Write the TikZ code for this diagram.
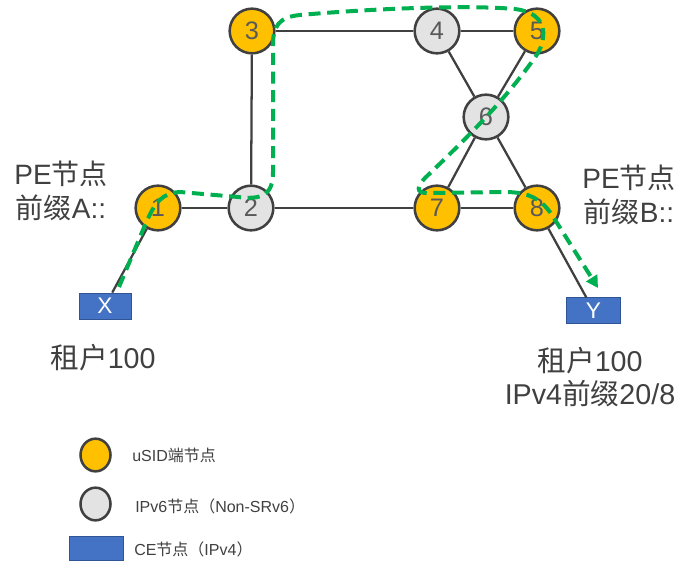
\documentclass[tikz,border=0pt]{standalone}
\usepackage{fontspec}
\setmainfont{Liberation Sans}
\newfontfamily\cjk{Noto Sans CJK SC}
\usetikzlibrary{arrows.meta,shapes.geometric}
\definecolor{usid}{HTML}{FFC000}
\definecolor{ipsix}{HTML}{E3E3E3}
\definecolor{outl}{HTML}{404040}
\definecolor{numc}{HTML}{595959}
\definecolor{txt}{HTML}{404040}
\definecolor{ceblue}{HTML}{4472C4}
\definecolor{ceedge}{HTML}{2F5597}
\definecolor{pathg}{HTML}{00B050}
\tikzset{
  nd/.style={circle, minimum size=33.5pt, inner sep=0pt, draw=outl, line width=1.9pt,
    text=numc, font=\fontsize{19}{19}\selectfont},
  usidnode/.style={nd, fill=usid},
  v6node/.style={nd, fill=ipsix},
  cebox/.style={rectangle, fill=ceblue, draw=ceedge, line width=0.6pt, inner sep=0pt,
    text=white, font=\fontsize{17}{17}\selectfont},
  link/.style={draw=outl, line width=1.7pt},
  bigtxt/.style={text=txt, font=\fontsize{21}{25.5}\selectfont, align=center, inner sep=0pt},
  hugetxt/.style={text=txt, font=\fontsize{21.5}{24.5}\selectfont, align=center, inner sep=0pt},
  legtxt/.style={text=txt, font=\fontsize{12}{12}\selectfont, anchor=west, inner sep=0pt},
  legell/.style={ellipse, minimum width=22.5pt, minimum height=24.5pt, inner sep=0pt, draw=outl, line width=1.9pt},
  srpath/.style={draw=pathg, line width=3pt, dash pattern=on 9pt off 5pt}
}
\begin{document}
\begin{tikzpicture}[x=0.75pt,y=-0.75pt]
\useasboundingbox (0,0) rectangle (678,563);
% nodes
\node[usidnode] (n1) at (158,208) {1};
\node[v6node]   (n2) at (251,208) {2};
\node[usidnode] (n3) at (252,31) {3};
\node[v6node]   (n4) at (437,31) {4};
\node[usidnode] (n5) at (537,31) {5};
\node[v6node]   (n6) at (486,117) {6};
\node[usidnode] (n7) at (437,208) {7};
\node[usidnode] (n8) at (537,208) {8};
\node[cebox, minimum width=39pt, minimum height=19.5pt] (X) at (105,306) {X};
\node[cebox, minimum width=41pt, minimum height=19pt] (Y) at (593.5,310.5) {Y};
% links
\draw[link] (n1) -- (n2);
\draw[link] (n2) -- (n3);
\draw[link] (n2) -- (n7);
\draw[link] (n3) -- (n4);
\draw[link] (n4) -- (n5);
\draw[link] (n4) -- (n6);
\draw[link] (n5) -- (n6);
\draw[link] (n6) -- (n7);
\draw[link] (n6) -- (n8);
\draw[link] (n7) -- (n8);
\draw[link] (n1) -- (X);
\draw[link] (n8) -- (Y);
% labels
\node[bigtxt] (peA) at (61,191) {PE{\cjk 节点}\\{\cjk 前缀}A::};
\node[bigtxt] (peB) at (629,195) {PE{\cjk 节点}\\{\cjk 前缀}B::};
\node[hugetxt] (tenA) at (103,358) {{\cjk 租户}100};
\node[hugetxt] (tenB) at (590,377) {{\cjk 租户}100\\IPv4{\cjk 前缀}20/8};
% green path
\coordinate (gs) at (119,287);
\coordinate (ge) at (598,288);
\draw[srpath, -{Triangle[length=9pt,width=9.5pt]}] (gs) -- (145,225)
  .. controls (155,202) and (162,193) .. (180,192)
  -- (238,197) .. controls (262,200) and (273,195) .. (273,172)
  -- (273,45) .. controls (273,26) and (279,17) .. (300,15)
  .. controls (380,8) and (470,5) .. (515,9)
  .. controls (538,12) and (545,24) .. (543,38)
  .. controls (542,45) and (540,50) .. (536,56)
  .. controls (505,100) and (470,135) .. (425,178)
  .. controls (414,190) and (418,194) .. (432,193)
  -- (505,192) .. controls (530,192) and (542,200) .. (552,215)
  -- (ge);
% legend
\node[legell, fill=usid] (lg1) at (95.5,455) {};
\node[legell, fill=ipsix] (lg2) at (95.5,504) {};
\node[rectangle, fill=ceblue, draw=ceedge, line width=0.6pt, minimum width=41pt, minimum height=18pt, inner sep=0pt] (lg3) at (96.5,548) {};
\node[legtxt] (lt1) at (132,455) {uSID{\cjk 端节点}};
\node[legtxt] (lt2) at (135,506) {IPv6{\cjk 节点（}Non-SRv6{\cjk ）}};
\node[legtxt] (lt3) at (134,549) {CE{\cjk 节点（}IPv4{\cjk ）}};
\end{tikzpicture}
\end{document}
